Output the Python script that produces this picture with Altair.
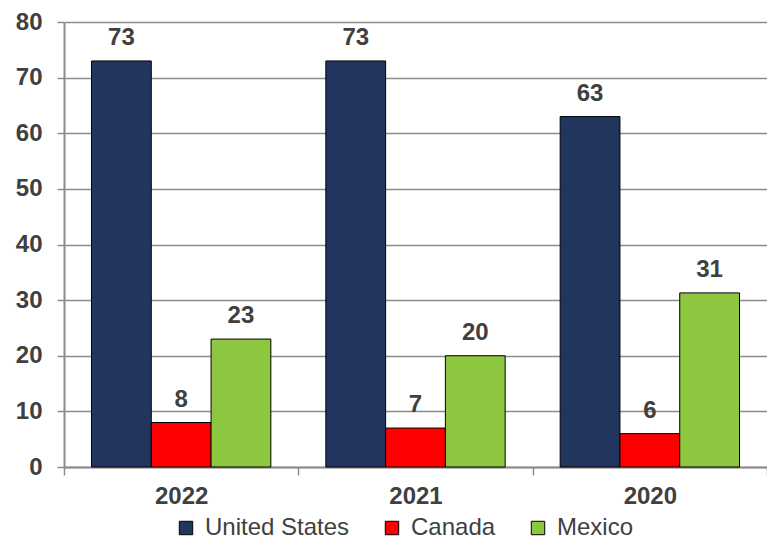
import altair as alt
import pandas as pd

years = ["2022", "2021", "2020"]
series = ["United States", "Canada", "Mexico"]
us = [73, 73, 63]
canada = [8, 7, 6]
mexico = [23, 20, 31.3]
colors = ["#22355f", "#ff0000", "#8dc63f"]

rows = []
for i, y in enumerate(years):
    for s, vals in zip(series, [us, canada, mexico]):
        rows.append({"year": y, "series": s, "value": vals[i], "label": str(int(round(vals[i])))})
df = pd.DataFrame(rows)

FONT = "Liberation Sans"
GRAY = "#404040"
LINE = "#8c8c8c"
FS = 24

x = alt.X("year:N", sort=years, title=None,
          scale=alt.Scale(paddingInner=0, paddingOuter=0),
          axis=alt.Axis(labelAngle=0, labelFont=FONT, labelFontSize=FS, labelFontWeight="bold",
                        labelColor=GRAY, labelPadding=9, tickBand="extent", tickSize=8,
                        tickColor=LINE, tickWidth=1.5, domainColor=LINE, domainWidth=2,
                        grid=False))
xo = alt.XOffset("series:N", sort=series,
                 scale=alt.Scale(paddingInner=0, paddingOuter=0.46))
y = alt.Y("value:Q", title=None,
          scale=alt.Scale(domain=[0, 80], nice=False),
          axis=alt.Axis(values=[0, 10, 20, 30, 40, 50, 60, 70, 80], labelFont=FONT,
                        labelFontSize=FS, labelFontWeight="bold", labelColor=GRAY,
                        labelPadding=15, tickSize=7, tickColor=LINE, tickWidth=1.5,
                        domainColor=LINE, domainWidth=2, grid=True, gridColor=LINE,
                        gridWidth=1.5))

bars = alt.Chart(df).mark_bar(stroke="black", strokeWidth=1).encode(
    x=x, xOffset=xo, y=y,
    color=alt.Color("series:N", sort=series,
                    scale=alt.Scale(domain=series, range=colors),
                    legend=alt.Legend(title=None, orient="none", direction="horizontal",
                                      legendX=110, legendY=494, symbolType="square",
                                      symbolSize=180, symbolStrokeColor="black",
                                      symbolStrokeWidth=1, labelFont=FONT, labelFontSize=FS,
                                      labelColor=GRAY, labelOffset=7, columnPadding=30,
                                      symbolOpacity=1))
)

labels = alt.Chart(df).mark_text(baseline="alphabetic", dy=-16, font=FONT, fontSize=FS,
                                 fontWeight="bold", color=GRAY).encode(
    x=alt.X("year:N", sort=years), xOffset=alt.XOffset("series:N", sort=series),
    y="value:Q", text="label:N"
)

chart = (bars + labels).properties(
    width=703, height=445,
    autosize=alt.AutoSizeParams(type="none"),
    padding={"left": 56, "top": 14, "right": 0, "bottom": 76},
).configure_view(stroke=None)

chart.save("out.html", embed_options={"renderer": "svg", "actions": False})
